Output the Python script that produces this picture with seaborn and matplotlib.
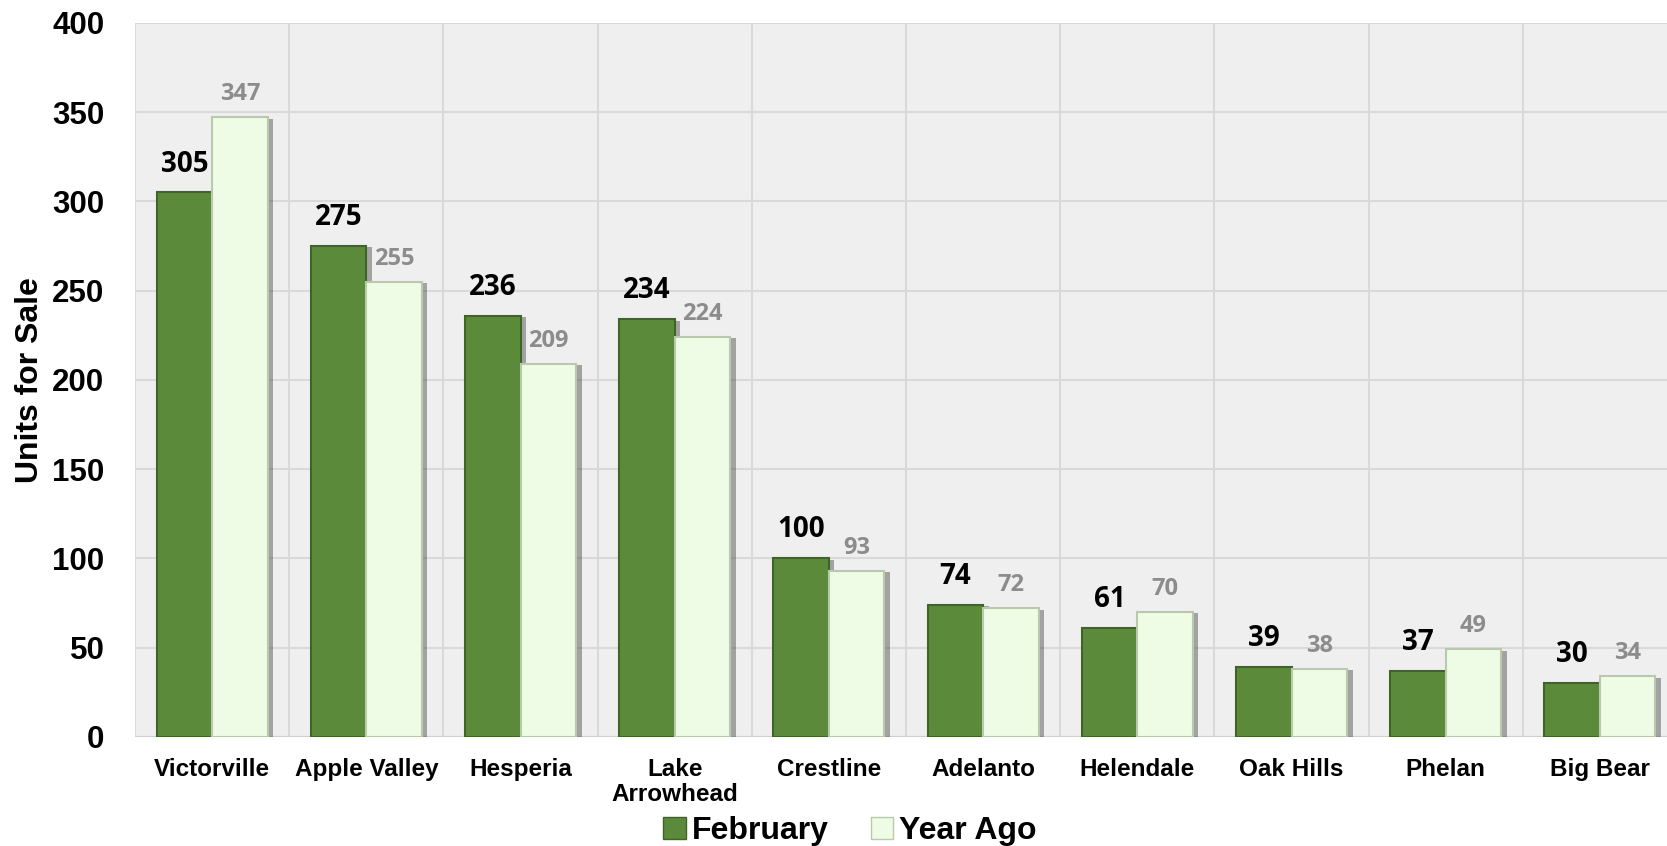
import matplotlib
matplotlib.use("Agg")
import matplotlib.pyplot as plt
import matplotlib.patheffects as pe
from matplotlib.patches import Patch
import seaborn as sns
import pandas as pd

cities = ["Victorville", "Apple Valley", "Hesperia", "Lake\nArrowhead", "Crestline",
          "Adelanto", "Helendale", "Oak Hills", "Phelan", "Big Bear"]
february = [305, 275, 236, 234, 100, 74, 61, 39, 37, 30]
year_ago = [347, 255, 209, 224, 93, 72, 70, 38, 49, 34]
series = ["February", "Year Ago"]
y_ticks = [0, 50, 100, 150, 200, 250, 300, 350, 400]

df = pd.DataFrame({
    "city": cities * 2,
    "units": february + year_ago,
    "series": [series[0]] * len(cities) + [series[1]] * len(cities),
})

sns.set_theme(style="white")
plt.rcParams["font.family"] = ["Liberation Sans", "DejaVu Sans"]
plt.rcParams["text.color"] = "black"
plt.rcParams["axes.labelcolor"] = "black"
plt.rcParams["xtick.color"] = "black"
plt.rcParams["ytick.color"] = "black"

fig = plt.figure(figsize=(16.67, 8.46), dpi=100)
ax = fig.add_axes([0.081, 0.129, 0.925, 0.844])
ax.set_facecolor("#efefef")

colors = {"February": "#5b8b3a", "Year Ago": "#eefbe5"}
edges = {"February": "#3f6526", "Year Ago": "#b9c9ae"}

sns.barplot(data=df, x="city", y="units", hue="series", palette=colors,
            width=0.72, gap=0, ax=ax, legend=False, saturation=1, zorder=3)

for cont, s in zip(ax.containers, series):
    for bar in cont:
        bar.set_edgecolor(edges[s])
        bar.set_linewidth(1.5)
        bar.set_path_effects([pe.SimplePatchShadow(offset=(4, -1), shadow_rgbFace="#444444", alpha=0.45),
                              pe.Normal()])

ax.bar_label(ax.containers[0], padding=10, fontsize=20, fontweight="bold",
             color="black", family="Open Sans")
ax.bar_label(ax.containers[1], padding=8, fontsize=17, fontweight="bold",
             color="#8c8c8c", family="Open Sans")

ax.set_ylim(0, 400)
ax.set_xlim(-0.5, 9.45)
ax.set_yticks(y_ticks)
ax.set_yticklabels([str(v) for v in y_ticks], fontsize=22.5, fontweight="bold")
ax.set_xticks(range(len(cities)))
ax.set_xticklabels(cities, fontsize=17.5, fontweight="bold", linespacing=1.15)
ax.tick_params(axis="x", length=0, pad=15)
ax.tick_params(axis="y", length=0, pad=22)

ax.set_axisbelow(True)
ax.yaxis.grid(True, color="#d9d9d9", linewidth=1.5)
ax.set_xticks([i + 0.5 for i in range(-1, len(cities))], minor=True)
ax.tick_params(axis="x", which="minor", length=0)
ax.xaxis.grid(True, which="minor", color="#d9d9d9", linewidth=1.5)
ax.xaxis.grid(False, which="major")
for sp in ax.spines.values():
    sp.set_visible(False)
ax.axhline(0, color="#d0d0d0", linewidth=1.5, zorder=2)

ax.set_xlabel("")
ax.set_ylabel("Units for Sale", fontsize=23, fontweight="bold", labelpad=5)

handles = [Patch(facecolor=colors[s], edgecolor=edges[s]) for s in series]
fig.legend(handles, series, loc="lower center", bbox_to_anchor=(0.51, -0.034),
           ncol=2, frameon=False, prop={"size": 23, "weight": "bold"},
           handlelength=0.7, handleheight=0.7, handletextpad=0.2, columnspacing=1.3)

fig.savefig("out.png", dpi=100)
